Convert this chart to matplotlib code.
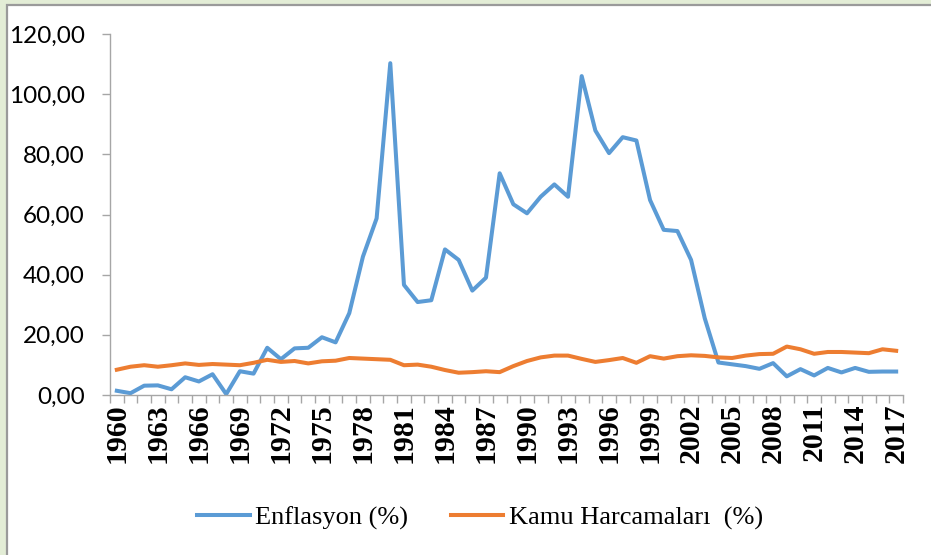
import numpy as np
import matplotlib
matplotlib.use('Agg')
import matplotlib.pyplot as plt
from matplotlib.patches import Rectangle
from matplotlib.ticker import FuncFormatter

years = list(range(1960, 2018))

enflasyon = [1.4, 0.6, 3.1, 3.2, 1.9, 5.9, 4.5, 6.9, 0.3, 7.9,
             7.1, 15.7, 11.9, 15.5, 15.7, 19.2, 17.5, 27.2, 46.0, 58.7,
             110.3, 36.6, 30.9, 31.5, 48.4, 44.9, 34.7, 39.0, 73.7, 63.4,
             60.4, 65.9, 70.0, 65.9, 106.0, 87.9, 80.4, 85.7, 84.6, 64.8,
             54.9, 54.5, 44.9, 25.5, 10.8, 10.2, 9.6, 8.7, 10.6, 6.2,
             8.6, 6.5, 9.0, 7.5, 9.0, 7.7, 7.8, 7.8]

kamu_harcamalari = [8.4, 9.4, 9.9, 9.4, 9.9, 10.5, 10.0, 10.3, 10.1, 9.9,
                    10.7, 11.7, 11.0, 11.3, 10.5, 11.2, 11.4, 12.3, 12.1, 11.9,
                    11.7, 9.9, 10.1, 9.4, 8.3, 7.4, 7.6, 7.9, 7.6, 9.6,
                    11.3, 12.5, 13.1, 13.1, 12.0, 11.0, 11.6, 12.3, 10.7, 12.9,
                    12.1, 12.9, 13.2, 13.0, 12.5, 12.3, 13.1, 13.6, 13.7, 16.1,
                    15.2, 13.7, 14.3, 14.3, 14.1, 13.9, 15.2, 14.7]

series_labels = ['Enflasyon (%)', 'Kamu Harcamaları  (%)']
colors = ['#5B9BD5', '#ED7D31']

W, H = 931, 555
fig = plt.figure(figsize=(W / 100, H / 100), dpi=100, facecolor='#E3EDD6')
fig.patches.append(Rectangle((7 / W, -0.02), 1.0, (H - 5) / H + 0.02,
                             transform=fig.transFigure, facecolor='white',
                             edgecolor='#9a9a9a', lw=1.6, zorder=-10))

ax = fig.add_axes([110 / W, (H - 395) / H, 793 / W, 361 / H])
ax.set_facecolor('none')
ax.set_zorder(2)

x = np.arange(len(years))
lines = []
for vals, lab, c in zip([enflasyon, kamu_harcamalari], series_labels, colors):
    ln, = ax.plot(x, vals, color=c, lw=2.9, label=lab, solid_joinstyle='round')
    lines.append(ln)

ax.set_xlim(-0.5, len(years) - 0.5)
ax.set_ylim(0, 120)
ax.set_yticks(np.arange(0, 121, 20))
ax.yaxis.set_major_formatter(FuncFormatter(lambda v, p: f'{v:.2f}'.replace('.', ',')))

# year labels every 3 years, tick marks on category boundaries
lab_idx = x[::3]
ax.set_xticks(lab_idx)
ax.set_xticklabels([str(years[i]) for i in lab_idx], rotation=90,
                   fontfamily='Liberation Serif', fontweight='bold', fontsize=21.5)
ax.set_xticks(np.arange(-0.5, len(years), 1.0), minor=True)
ax.tick_params(axis='x', which='major', length=0, pad=6)
ax.tick_params(axis='x', which='minor', length=6, color='#a6a6a6', width=1)
ax.tick_params(axis='y', length=6, color='#a6a6a6', width=1, pad=12)
for t in ax.get_yticklabels():
    t.set_fontfamily('Lato')
    t.set_fontsize(17.5)

for s in ['top', 'right']:
    ax.spines[s].set_visible(False)
for s in ['left', 'bottom']:
    ax.spines[s].set_color('#a6a6a6')
    ax.spines[s].set_linewidth(1)

fig.legend(handles=lines, loc='center', bbox_to_anchor=(480 / W, 1 - 518 / H),
           ncol=2, frameon=False, handlelength=2.0, columnspacing=1.6,
           handletextpad=0.2, prop={'family': 'Liberation Serif', 'size': 19})

fig.savefig('out.png', dpi=100, facecolor=fig.get_facecolor())
